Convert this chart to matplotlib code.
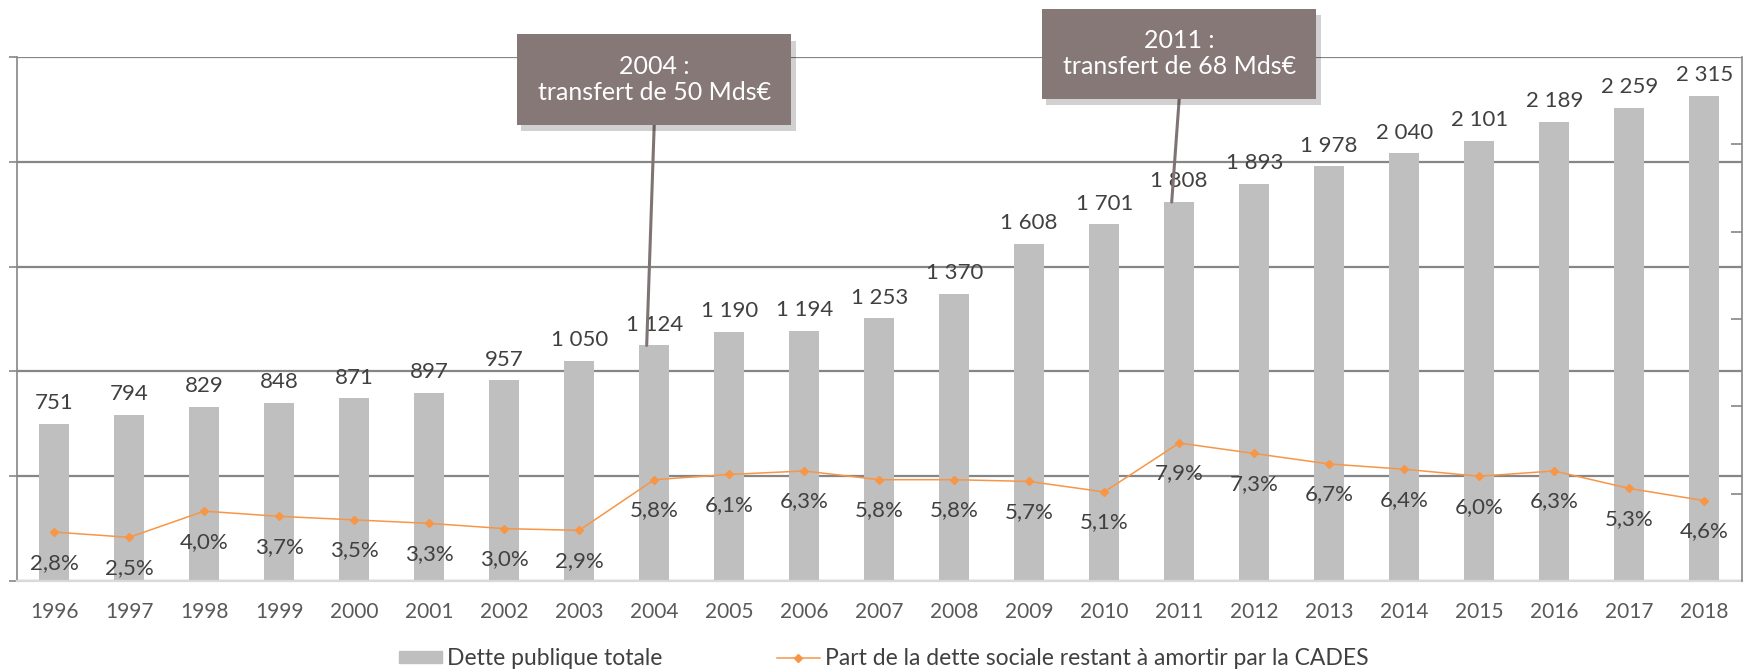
import matplotlib.pyplot as plt
import matplotlib.transforms as mtransforms
from matplotlib.patches import Rectangle
import numpy as np

plt.rcParams['font.family'] = ['Lato', 'DejaVu Sans']

years = ['1996', '1997', '1998', '1999', '2000', '2001', '2002', '2003', '2004', '2005', '2006', '2007',
         '2008', '2009', '2010', '2011', '2012', '2013', '2014', '2015', '2016', '2017', '2018']
dette = [751, 794, 829, 848, 871, 897, 957, 1050, 1124, 1190, 1194, 1253,
         1370, 1608, 1701, 1808, 1893, 1978, 2040, 2101, 2189, 2259, 2315]
part_cades = [2.8, 2.5, 4.0, 3.7, 3.5, 3.3, 3.0, 2.9, 5.8, 6.1, 6.3, 5.8,
              5.8, 5.7, 5.1, 7.9, 7.3, 6.7, 6.4, 6.0, 6.3, 5.3, 4.6]
transferts = [('2004', '2004 :\ntransfert de 50 Mds€', 1.043, 0.870),
              ('2011', '2011 :\ntransfert de 68 Mds€', 1.092, 0.920)]

GRID = '#868686'
BAR = '#BFBFBF'
ORANGE = '#F79646'
BOX = '#857876'
TXT = '#404040'

fig = plt.figure(figsize=(17.46, 6.69), dpi=100)
ax = fig.add_axes([16.7 / 1746, 88 / 669, 1725 / 1746, 524 / 669])
x = np.arange(len(years))

ax.bar(x, dette, width=0.4, color=BAR, zorder=2)
ax.set_xlim(-0.5, len(years) - 0.5)
ax.set_ylim(0, 2500)
ax.set_yticks(np.arange(0, 2501, 500))
ax.set_yticklabels([])
ax.yaxis.grid(True, color=GRID, lw=1.6, zorder=0)
ax.set_axisbelow(True)
ax.tick_params(axis='y', direction='out', length=6, width=1.2, color=GRID)
ax.set_xticks(x)
ax.set_xticklabels(years, fontsize=15, color='#595959')
ax.tick_params(axis='x', length=0, pad=15)
ax.spines['top'].set_visible(False)
ax.spines['left'].set_color(GRID)
ax.spines['left'].set_linewidth(1.2)
ax.spines['bottom'].set_color('#D9D9D9')
ax.spines['bottom'].set_linewidth(1.6)
ax.spines['right'].set_visible(False)

for i, v in enumerate(dette):
    ax.annotate(f'{v:,}'.replace(',', ' '), (i, v), xytext=(0, 15), textcoords='offset points',
                ha='center', va='center', fontsize=16, color=TXT, zorder=3)

ax2 = ax.twinx()
ax2.set_ylim(0, 30)
ax2.set_yticks([5, 10, 15, 20, 25])
ax2.set_yticklabels([])
ax2.tick_params(axis='y', direction='in', length=8, width=1.2, color=GRID)
ax2.spines['top'].set_visible(False)
ax2.spines['left'].set_visible(False)
ax2.spines['bottom'].set_visible(False)
ax2.spines['right'].set_color(GRID)
ax2.spines['right'].set_linewidth(1.2)
ax2.plot(x, part_cades, color=ORANGE, lw=1.1, marker='D', markersize=4.5, zorder=4)
for i, v in enumerate(part_cades):
    ax2.annotate(f'{v:.1f}%'.replace('.', ','), (i, v), xytext=(0, -22), textcoords='offset points',
                 ha='center', va='center', fontsize=16, color=TXT, zorder=5)

# encadres des transferts
trans = mtransforms.blended_transform_factory(ax.transData, ax.transAxes)
for yr, label, top, bottom in transferts:
    i = years.index(yr)
    w = 3.66
    shadow = Rectangle((i - w / 2 + 0.06, bottom - 0.012), w, top - bottom, transform=trans,
                       facecolor='#000000', alpha=0.18, clip_on=False, zorder=8)
    box = Rectangle((i - w / 2, bottom), w, top - bottom, transform=trans,
                    facecolor=BOX, edgecolor='none', clip_on=False, zorder=9)
    ax2.add_patch(shadow)
    ax2.add_patch(box)
    ax2.text(i, (top + bottom) / 2, label, transform=trans, ha='center', va='center',
             fontsize=18, color='white', linespacing=1.15, zorder=10, clip_on=False)
    ax2.annotate('', xy=(i - 0.1, dette[i]), xycoords=ax.transData,
                 xytext=(i, bottom), textcoords=trans,
                 arrowprops=dict(arrowstyle='-', color='#7F7473', lw=2.2, shrinkA=0, shrinkB=0),
                 zorder=7)

h1 = Rectangle((0, 0), 1, 1, color=BAR)
h2, = ax2.plot([], [], color=ORANGE, lw=1.1, marker='D', markersize=4.5)
fig.legend([h1, h2], ['Dette publique totale', 'Part de la dette sociale restant à amortir par la CADES'],
           loc='center', bbox_to_anchor=(0.506, 0.015), ncol=2, frameon=False, fontsize=16.5,
           columnspacing=5, handlelength=1.9, handleheight=0.45, handletextpad=0.2, labelcolor=TXT)

fig.savefig('out.png', dpi=100)
